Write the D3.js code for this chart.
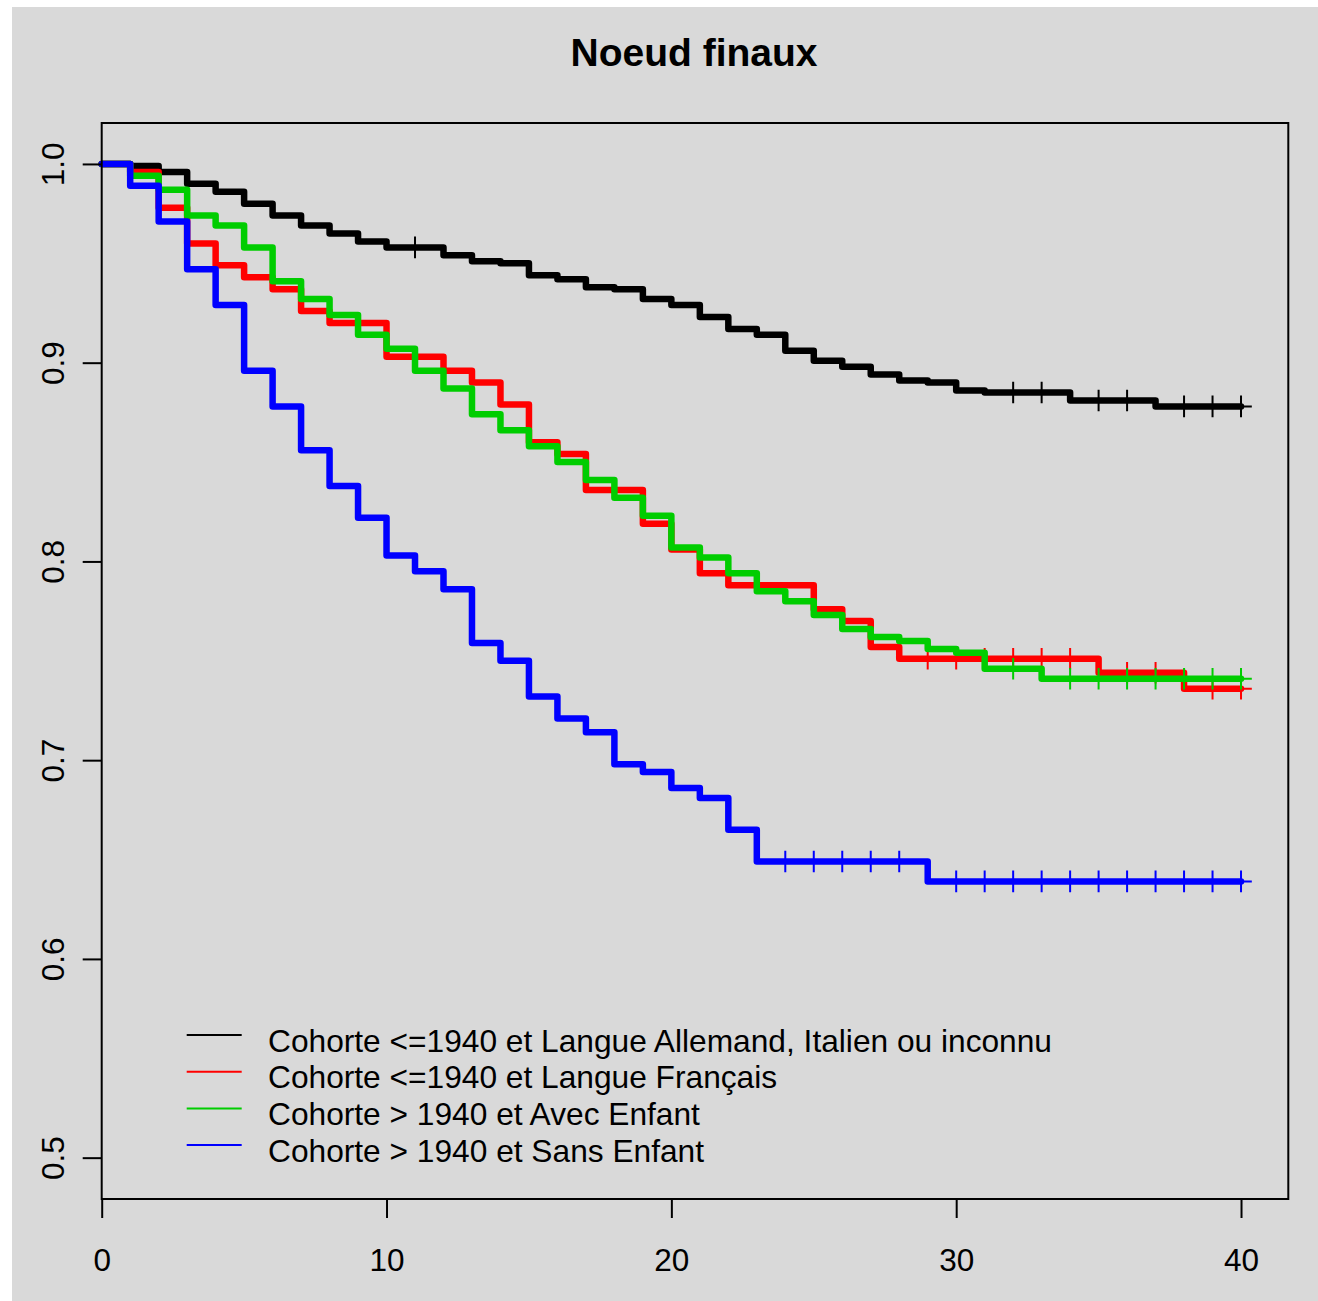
<!DOCTYPE html>
<meta charset="utf-8">
<style>
    body { margin: 0; background: #ffffff; }
    text { font-family: "Liberation Sans", Arial, sans-serif; fill: #000; }
    .axis path, .axis line { stroke: #000; stroke-width: 2; fill: none; }
    path.curve { fill: none; stroke-width: 6.5; stroke-linejoin: round; stroke-linecap: round; }
    path.mark { fill: none; stroke-width: 2; }
</style>
<body>
<script src="https://cdn.jsdelivr.net/npm/d3@7/dist/d3.min.js"></script>
<script>

    // survival estimate on [t, t+1), t = 0..39
    var times = [0,1,2,3,4,5,6,7,8,9,10,11,12,13,14,15,16,17,18,19,20,21,22,23,24,25,26,27,28,29,30,31,32,33,34,35,36,37,38,39];
    var endTime = 40;

    var black = [1.000,0.999,0.996,0.990,0.986,0.980,0.974,0.969,0.965,0.961,0.958,0.958,0.954,0.951,0.950,0.944,0.942,0.938,0.937,0.932,
                 0.929,0.923,0.917,0.914,0.906,0.901,0.898,0.894,0.891,0.890,0.886,0.885,0.885,0.885,0.881,0.881,0.881,0.878,0.878,0.878];
    var red   = [1.000,0.996,0.978,0.960,0.949,0.943,0.937,0.926,0.920,0.920,0.903,0.903,0.896,0.890,0.879,0.860,0.854,0.836,0.836,0.819,
                 0.806,0.794,0.788,0.788,0.788,0.776,0.770,0.757,0.751,0.751,0.751,0.751,0.751,0.751,0.751,0.744,0.744,0.744,0.736,0.736];
    var green = [1.000,0.994,0.987,0.974,0.969,0.958,0.941,0.932,0.924,0.914,0.907,0.896,0.887,0.874,0.866,0.858,0.850,0.841,0.832,0.823,
                 0.807,0.802,0.794,0.785,0.780,0.773,0.766,0.762,0.760,0.756,0.754,0.746,0.746,0.741,0.741,0.741,0.741,0.741,0.741,0.741];
    var blue  = [1.000,0.989,0.971,0.947,0.929,0.896,0.878,0.856,0.838,0.822,0.803,0.795,0.786,0.759,0.750,0.732,0.721,0.714,0.698,0.694,
                 0.686,0.681,0.665,0.649,0.649,0.649,0.649,0.649,0.649,0.639,0.639,0.639,0.639,0.639,0.639,0.639,0.639,0.639,0.639,0.639];

    // censoring times
    var blackCens = [11,32,33,35,36,38,39,40];
    var redCens   = [29,30,31,32,33,34,36,37,39,40];
    var greenCens = [32,34,35,36,37,38,39,40];
    var blueCens  = [24,25,26,27,28,30,31,32,33,34,35,36,37,38,39,40];

    var labels = ["Cohorte <=1940 et Langue Allemand, Italien ou inconnu",
                  "Cohorte <=1940 et Langue Français",
                  "Cohorte > 1940 et Avec Enfant",
                  "Cohorte > 1940 et Sans Enfant"];
    var colors = ["#000000", "#ff0000", "#00cd00", "#0000ff"];

    var xTicks = [0, 10, 20, 30, 40];
    var yTicks = [0.5, 0.6, 0.7, 0.8, 0.9, 1.0];

    var series = [
        {values: black, cens: blackCens, color: colors[0]},
        {values: red,   cens: redCens,   color: colors[1]},
        {values: green, cens: greenCens, color: colors[2]},
        {values: blue,  cens: blueCens,  color: colors[3]}
    ];

    var W = 1318, H = 1301;

    var x = d3.scaleLinear().domain([0, 41.66]).range([101.7, 1288.3]);
    var y = d3.scaleLinear().domain([0.4792, 1.0206]).range([1199, 123]);

    var svg = d3.select("body").append("svg")
            .attr("width", W)
            .attr("height", H);

    svg.append("rect")
            .attr("x", 12).attr("y", 7)
            .attr("width", W - 12).attr("height", H - 7)
            .attr("fill", "#d9d9d9");

    svg.append("text")
            .attr("x", 694).attr("y", 66)
            .attr("text-anchor", "middle")
            .style("font-size", "39px")
            .style("font-weight", "bold")
            .text("Noeud finaux");

    var line = d3.line()
            .x(function(d) { return x(d[0]); })
            .y(function(d) { return y(d[1]); })
            .curve(d3.curveStepAfter);

    series.forEach(function(s) {
        var pts = times.map(function(t, i) { return [t, s.values[i]]; });
        pts.push([endTime, s.values[s.values.length - 1]]);

        svg.append("path")
                .attr("class", "curve")
                .attr("stroke", s.color)
                .attr("d", line(pts));

        svg.append("path")
                .attr("class", "mark")
                .attr("stroke", s.color)
                .attr("d", s.cens.map(function(t) {
                    var v = s.values[Math.min(t, s.values.length - 1)];
                    var px = x(t), py = y(v), r = 10.8;
                    return "M" + (px - r) + "," + py + "H" + (px + r) +
                           "M" + px + "," + (py - r) + "V" + (py + r);
                }).join(""));
    });

    // frame
    svg.append("rect")
            .attr("x", x(0)).attr("y", y(1.0206))
            .attr("width", x(41.66) - x(0))
            .attr("height", y(0.4792) - y(1.0206))
            .attr("fill", "none")
            .attr("stroke", "#000")
            .attr("stroke-width", 2);

    var xAxis = d3.axisBottom(x).tickValues(xTicks).tickSize(19).tickPadding(0)
            .tickFormat(d3.format("d"));
    var gx = svg.append("g")
            .attr("class", "x axis")
            .attr("transform", "translate(0," + y(0.4792) + ")")
            .call(xAxis);
    gx.select(".domain").remove();
    gx.selectAll("text")
            .attr("y", 0).attr("dy", null)
            .attr("transform", "translate(0,72)")
            .style("font-size", "31.5px");

    var yAxis = d3.axisLeft(y).tickValues(yTicks).tickSize(19).tickFormat(d3.format(".1f"));
    var gy = svg.append("g")
            .attr("class", "y axis")
            .attr("transform", "translate(" + x(0) + ",0)")
            .call(yAxis);
    gy.select(".domain").remove();
    gy.selectAll(".tick text")
            .attr("x", 0).attr("dy", null)
            .attr("text-anchor", "middle")
            .attr("transform", "translate(-38,0) rotate(-90)")
            .style("font-size", "31.5px");

    // legend
    var legend = svg.append("g").attr("class", "legend");
    labels.forEach(function(lab, i) {
        var ly = 1035 + i * 36.7;
        legend.append("line")
                .attr("x1", 186.7).attr("x2", 241.7)
                .attr("y1", ly).attr("y2", ly)
                .attr("stroke", colors[i])
                .attr("stroke-width", 2);
        legend.append("text")
                .attr("x", 268).attr("y", ly + 16.5)
                .style("font-size", "31.7px")
                .text(lab);
    });

</script>
